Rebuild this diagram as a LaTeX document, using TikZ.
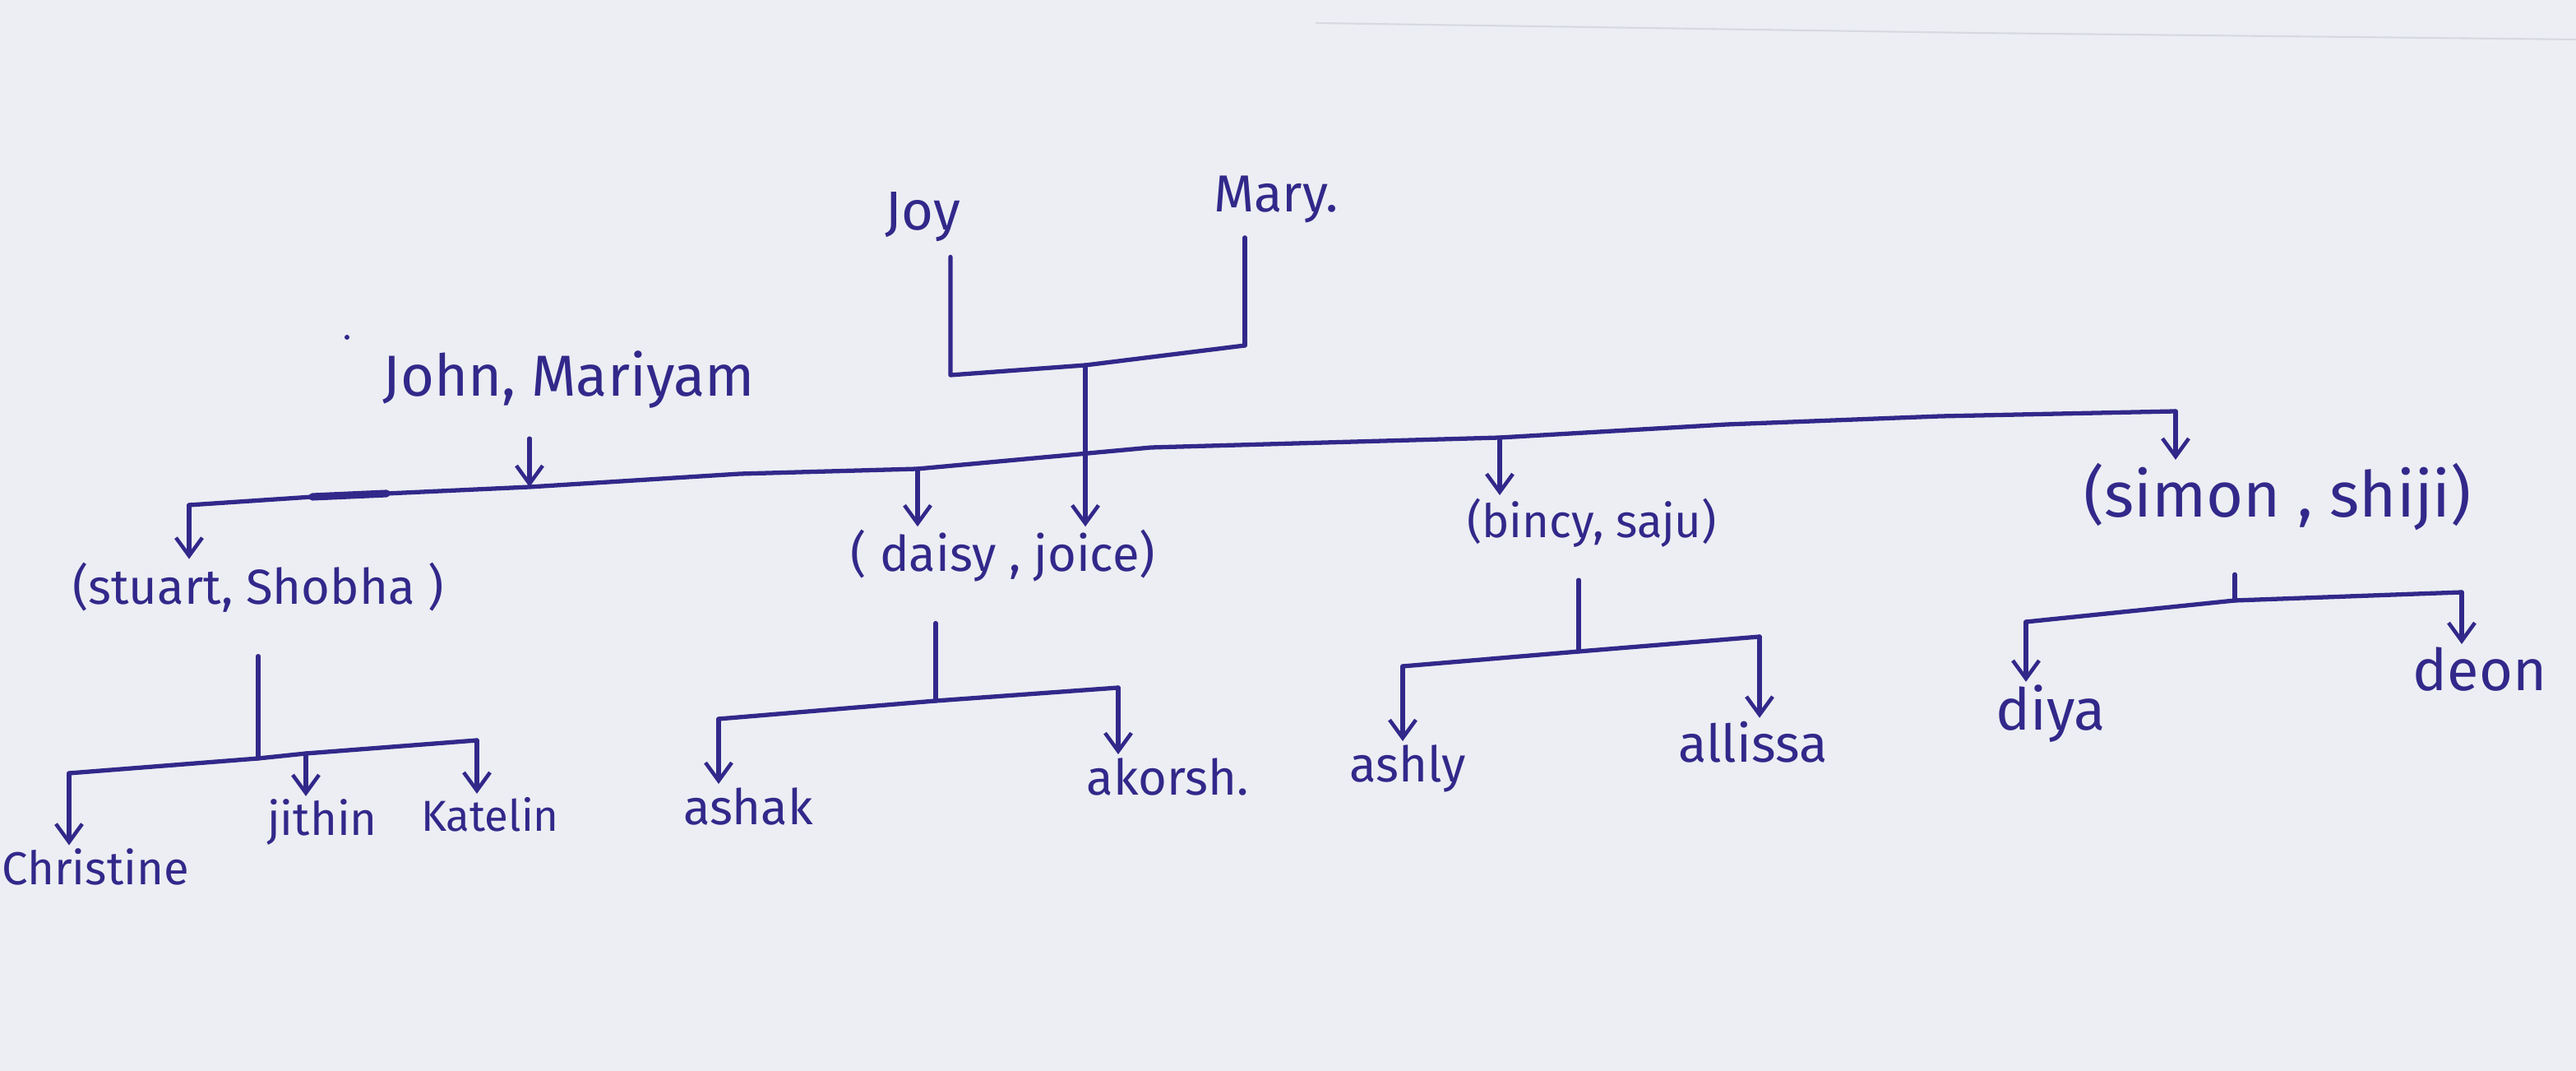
\documentclass[tikz,border=0pt]{standalone}
\usepackage{fontspec}
\setmainfont{Fira Sans}
\usetikzlibrary{arrows.meta}
\definecolor{paper}{RGB}{236,238,243}
\definecolor{paperedge}{RGB}{214,217,224}
\definecolor{ink}{RGB}{50,40,138}
\tikzset{
  pen/.style={draw=ink, line width=1.5pt, line cap=round, line join=round},
  arr/.style={pen, -{Straight Barb[length=2.2mm,width=3.2mm,line width=1.3pt]}},
  nm/.style={text=ink, inner sep=1pt, font=\fontsize{#1}{#1}\selectfont},
}
\begin{document}
\begin{tikzpicture}[x=0.2mm,y=-0.2mm]
\fill[paper] (0,0) rectangle (1566.5,651);
\useasboundingbox (0,0) rectangle (1566.5,651);
\draw[paperedge, line width=0.6pt] (800,14) -- (1200,20) -- (1566.5,24);

% ---- names ----
\node[nm=19] (joy) at (561,132) {Joy};
\node[nm=18] (mary) at (776,121) {Mary.};
\node[nm=20] (jm) at (346,231) {John, Mariyam};
\fill[ink] (211,205) circle (1.5);

\node[nm=17] (ss) at (157,357) {(stuart, Shobha )};
\node[nm=17] (dj) at (610,338) {( daisy , joice)};
\node[nm=16] (bs) at (968,318) {(bincy, saju)};
\node[nm=22] (sh) at (1385,302) {(simon , shiji)};

\node[nm=16] (chr) at (58,527) {Christine};
\node[nm=16] (jit) at (196,500) {jithin};
\node[nm=15] (kat) at (298,495) {Katelin};
\node[nm=17] (ash) at (455,490) {ashak};
\node[nm=17] (ako) at (710,472) {akorsh.};
\node[nm=17] (asl) at (856,467) {ashly};
\node[nm=18] (all) at (1066,451) {allissa};
\node[nm=20] (diy) at (1247,434) {diya};
\node[nm=20] (deo) at (1508,407) {deon};

% ---- Joy & Mary ----
\coordinate (jB) at (578,228);
\coordinate (mB) at (757,210);
\coordinate (jmx) at (660,222);
\draw[pen, shorten <=4pt] (joy.south -| jB) -- (jB) -- (jmx) -- (mB);
\draw[pen, shorten <=4pt] (mary.south -| mB) -- (mB);
\draw[arr] (jmx) -- (jmx |- dj.north);

% ---- main bus (John, Mariyam) ----
\coordinate (bL) at (115,307);
\coordinate (b0) at (190,302);
\coordinate (b1) at (235,300);
\coordinate (bJ) at (322,296);
\coordinate (b3) at (450,288);
\coordinate (bD) at (558,285);
\coordinate (b5) at (700,272);
\coordinate (bB) at (912,266);
\coordinate (b7) at (1050,258);
\coordinate (b8) at (1180,253);
\coordinate (bR) at (1323,250);
\draw[pen] (bL) -- (b0) -- (b1) -- (bJ) -- (b3) -- (bD) -- (b5) -- (bB) -- (b7) -- (b8) -- (bR);
\draw[pen, line width=2.6pt] (b0) -- (b1);
\draw[arr] (jm.south -| bJ) ++(0,16) -- (bJ);
\draw[arr] (bL) -- (bL |- ss.north);
\draw[arr] (bD) -- (bD |- dj.north);
\draw[arr] (bB) -- (bB |- bs.north);
\draw[arr] (bR) -- (bR |- sh.north);

% ---- stuart & Shobha ----
\coordinate (sJ) at (157,461);
\coordinate (sL) at (42,470);
\coordinate (sM) at (186,458);
\coordinate (sR) at (290,450);
\draw[pen, shorten <=14pt] (ss.south -| sJ) -- (sJ);
\draw[pen] (sL) -- (sJ) -- (sM) -- (sR);
\draw[arr] (sL) -- (sL |- chr.north);
\draw[arr] (sM) -- (sM |- jit.north);
\draw[arr] (sR) -- (sR |- kat.north);

% ---- daisy & joice ----
\coordinate (dJ) at (569,426);
\coordinate (dL) at (437,437);
\coordinate (dR) at (680,418);
\draw[pen, shorten <=13pt] (dj.south -| dJ) -- (dJ);
\draw[pen] (dL) -- (dJ) -- (dR);
\draw[arr] (dL) -- (dL |- ash.north);
\draw[arr] (dR) -- (dR |- ako.north);

% ---- bincy & saju ----
\coordinate (bcJ) at (960,396);
\coordinate (bcL) at (853,405);
\coordinate (bcR) at (1070,387);
\draw[pen, shorten <=10pt] (bs.south -| bcJ) -- (bcJ);
\draw[pen] (bcL) -- (bcJ) -- (bcR);
\draw[arr] (bcL) -- (bcL |- asl.north);
\draw[arr] (bcR) -- (bcR |- all.north);

% ---- simon & shiji ----
\coordinate (smJ) at (1359,365);
\coordinate (smL) at (1232,378);
\coordinate (smR) at (1497,360);
\draw[pen, shorten <=14pt] (sh.south -| smJ) -- (smJ);
\draw[pen] (smL) -- (smJ) -- (smR);
\draw[arr] (smL) -- (smL |- diy.north);
\draw[arr] (smR) -- (smR |- deo.north);
\end{tikzpicture}
\end{document}
